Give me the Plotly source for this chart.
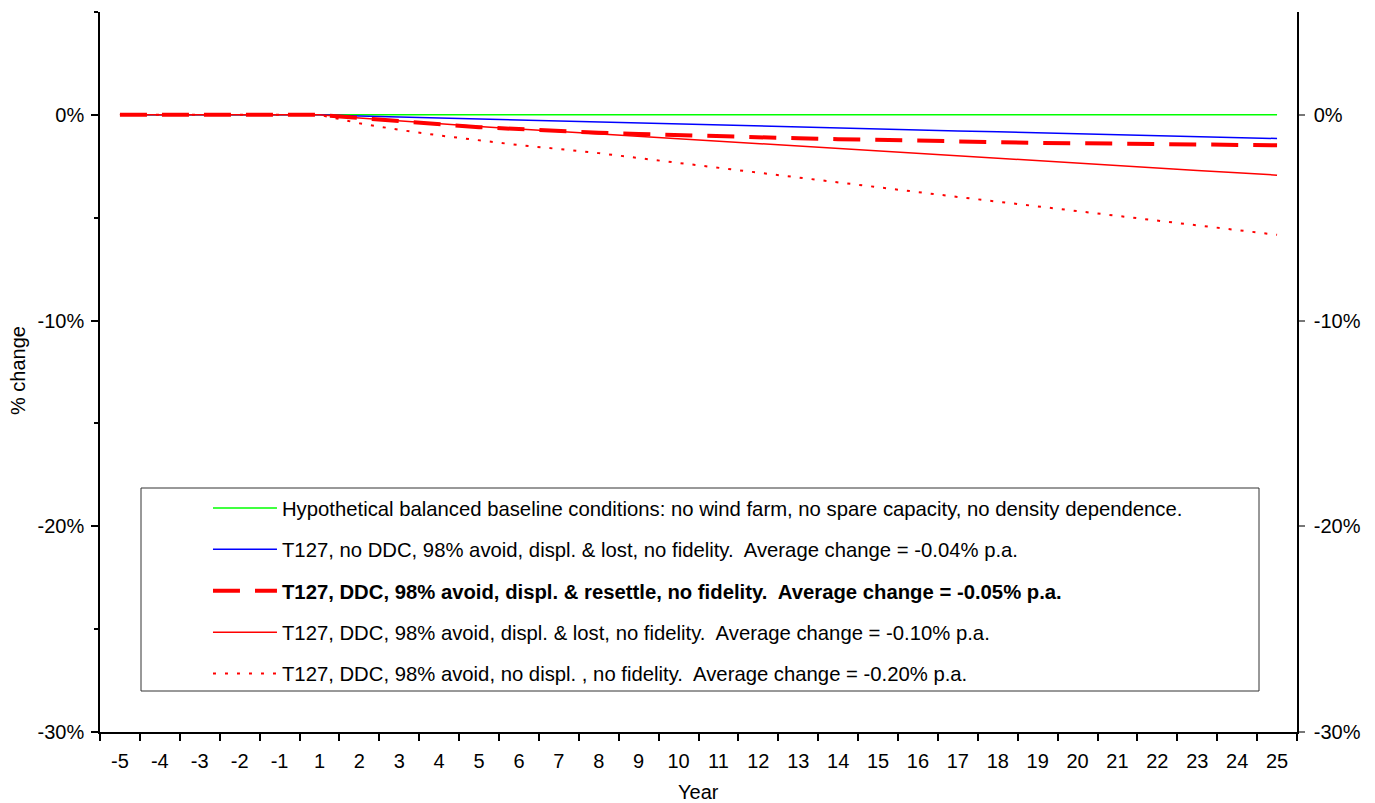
import plotly.graph_objects as go

years = ["-5", "-4", "-3", "-2", "-1"] + [str(i) for i in range(1, 26)]

baseline = [0.0] * 30

blue_noddc_lost = [0, 0, 0, 0, 0,
                   0, -0.06, -0.11, -0.16, -0.20, -0.25, -0.30, -0.35, -0.40, -0.45,
                   -0.50, -0.55, -0.59, -0.64, -0.69, -0.73, -0.78, -0.82, -0.87, -0.92,
                   -0.96, -1.01, -1.06, -1.10, -1.15]

red_ddc_resettle = [0, 0, 0, 0, 0,
                    0, -0.15, -0.30, -0.45, -0.60, -0.69, -0.80, -0.87, -0.93, -0.99,
                    -1.04, -1.09, -1.14, -1.18, -1.22, -1.27, -1.30, -1.33, -1.36, -1.38,
                    -1.40, -1.42, -1.44, -1.46, -1.48]

red_ddc_lost = [0, 0, 0, 0, 0,
                0, -0.15, -0.30, -0.44, -0.57, -0.69, -0.81, -0.92, -1.04, -1.16,
                -1.28, -1.40, -1.52, -1.64, -1.76, -1.88, -2.00, -2.12, -2.24, -2.36,
                -2.48, -2.59, -2.70, -2.81, -2.93]

red_ddc_nodispl = [0, 0, 0, 0, 0,
                   0, -0.41, -0.73, -1.00, -1.25, -1.47, -1.66, -1.86, -2.10, -2.34,
                   -2.58, -2.82, -3.06, -3.30, -3.53, -3.76, -3.99, -4.22, -4.45, -4.68,
                   -4.91, -5.14, -5.37, -5.60, -5.83]

names = [
    "Hypothetical balanced baseline conditions: no wind farm, no spare capacity, no density dependence.",
    "T127, no DDC, 98% avoid, displ. & lost, no fidelity.  Average change = -0.04% p.a.",
    "<b>T127, DDC, 98% avoid, displ. & resettle, no fidelity.  Average change = -0.05% p.a.</b>",
    "T127, DDC, 98% avoid, displ. & lost, no fidelity.  Average change = -0.10% p.a.",
    "T127, DDC, 98% avoid, no displ. , no fidelity.  Average change = -0.20% p.a.",
]

ytick_vals = [0, -10, -20, -30]
ytick_text = ["0%", "-10%", "-20%", "-30%"]

FONT = "Liberation Sans, Arial, sans-serif"
FS = 20

fig = go.Figure()
series = [
    (baseline, dict(color="#00ff00", width=1.5)),
    (blue_noddc_lost, dict(color="#0000ff", width=1.5)),
    (red_ddc_resettle, dict(color="#ff0000", width=4, dash="27px,15px")),
    (red_ddc_lost, dict(color="#ff0000", width=1.5)),
    (red_ddc_nodispl, dict(color="#ff0000", width=2, dash="3px,9px")),
]
order = [0, 1, 3, 4, 2]
for i, (vals, line) in enumerate(series):
    fig.add_trace(go.Scatter(
        x=years, y=vals, mode="lines", line=line, name=names[i],
        legendgroup=f"g{i}", legendrank=i + 1,
    ))
fig.data = tuple(fig.data[k] for k in order)

fig.add_trace(go.Scatter(x=years, y=baseline, yaxis="y2", mode="lines",
                         line=dict(width=0), showlegend=False, hoverinfo="skip"))

# page body has an 8px margin, so the figure is sized/offset to compensate
fig.update_layout(
    width=1367, height=795,
    margin=dict(l=92, r=78, t=4, b=71, autoexpand=False),
    paper_bgcolor="white", plot_bgcolor="white",
    font=dict(family=FONT, size=FS, color="black"),
    showlegend=True,
    legend=dict(
        x=0.0902, y=0.3385, xanchor="left", yanchor="top",
        bgcolor="rgba(0,0,0,0)", borderwidth=0,
        font=dict(family=FONT, size=20.3, color="black"),
        traceorder="grouped", tracegroupgap=12, itemwidth=64,
    ),
    xaxis=dict(
        type="category", range=[-0.5, 29.5], automargin=False,
        showline=True, linecolor="black", linewidth=1.5,
        ticks="outside", tickson="boundaries", ticklen=7, tickcolor="black", tickwidth=1.5,
        ticklabelstandoff=10,
        showgrid=False, zeroline=False,
        tickfont=dict(size=FS),
    ),
    yaxis=dict(
        range=[-30, 5], automargin=False,
        showline=True, linecolor="black", linewidth=1.5,
        tickvals=ytick_vals, ticktext=ytick_text,
        ticks="outside", ticklen=7, tickcolor="black", tickwidth=1.5,
        ticklabelstandoff=3,
        minor=dict(tickvals=[5, -5, -15, -25], ticks="outside", ticklen=4, tickcolor="black", tickwidth=1.5),
        showgrid=False, zeroline=False,
        tickfont=dict(size=FS),
    ),
    yaxis2=dict(
        range=[-30, 5], overlaying="y", side="right", anchor="x", automargin=False,
        showline=True, linecolor="black", linewidth=1.5,
        tickvals=ytick_vals, ticktext=ytick_text,
        ticks="outside", ticklen=6, tickcolor="#777777", tickwidth=1.5,
        ticklabelstandoff=5,
        showgrid=False, zeroline=False,
        tickfont=dict(size=FS),
    ),
    annotations=[
        dict(text="% change", xref="paper", yref="paper",
             x=(18 - 100) / 1197, y=(732 - 371) / 720, textangle=-90,
             showarrow=False, xanchor="center", yanchor="middle",
             font=dict(size=FS)),
        dict(text="Year", xref="paper", yref="paper",
             x=(698 - 100) / 1197, y=(732 - 803) / 720,
             showarrow=False, xanchor="center", yanchor="bottom",
             height=18, valign="middle",
             font=dict(size=FS)),
    ],
    shapes=[dict(type="rect", xref="paper", yref="paper",
                 x0=(141 - 100) / 1197, x1=(1259 - 100) / 1197,
                 y0=(732 - 691) / 720, y1=(732 - 488) / 720,
                 line=dict(color="#333333", width=1), fillcolor="rgba(0,0,0,0)",
                 layer="below")],
)

fig.write_html("out.html")
